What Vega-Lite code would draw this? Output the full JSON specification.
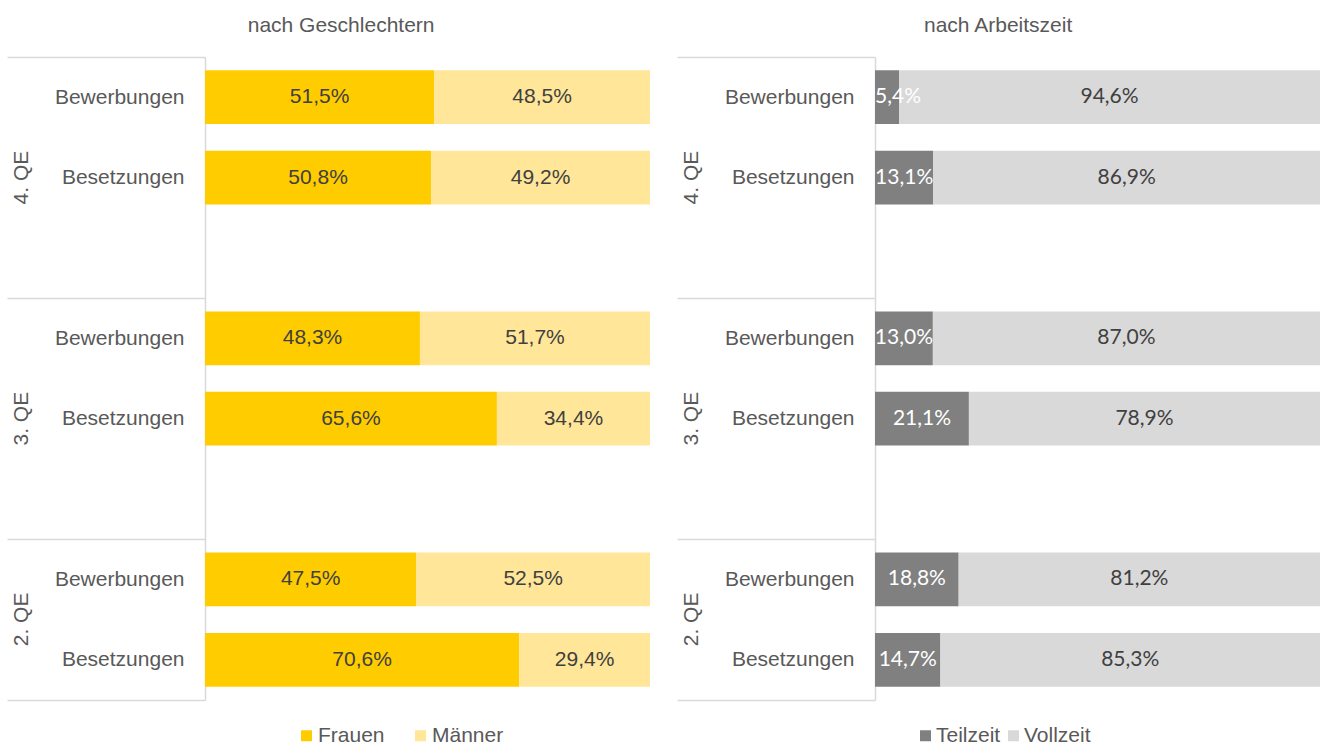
{
  "$schema": "https://vega.github.io/schema/vega-lite/v6.json",
  "padding": {"left": 6, "top": 15, "right": 8, "bottom": 0},
  "config": {
    "view": {"stroke": null},
    "locale": {"number": {"decimal": ",", "thousands": ".", "grouping": [3], "currency": ["", " €"]}},
    "font": "Liberation Sans"
  },
  "datasets": {
    "rows": [
      {"panel": "g", "key": "4. QE|Bewerbungen", "series": "Frauen", "pct": 0.515},
      {"panel": "g", "key": "4. QE|Bewerbungen", "series": "Männer", "pct": 0.485},
      {"panel": "g", "key": "4. QE|Besetzungen", "series": "Frauen", "pct": 0.508},
      {"panel": "g", "key": "4. QE|Besetzungen", "series": "Männer", "pct": 0.492},
      {"panel": "g", "key": "3. QE|Bewerbungen", "series": "Frauen", "pct": 0.483},
      {"panel": "g", "key": "3. QE|Bewerbungen", "series": "Männer", "pct": 0.517},
      {"panel": "g", "key": "3. QE|Besetzungen", "series": "Frauen", "pct": 0.656},
      {"panel": "g", "key": "3. QE|Besetzungen", "series": "Männer", "pct": 0.344},
      {"panel": "g", "key": "2. QE|Bewerbungen", "series": "Frauen", "pct": 0.475},
      {"panel": "g", "key": "2. QE|Bewerbungen", "series": "Männer", "pct": 0.525},
      {"panel": "g", "key": "2. QE|Besetzungen", "series": "Frauen", "pct": 0.706},
      {"panel": "g", "key": "2. QE|Besetzungen", "series": "Männer", "pct": 0.294},
      {"panel": "a", "key": "4. QE|Bewerbungen", "series": "Teilzeit", "pct": 0.054},
      {"panel": "a", "key": "4. QE|Bewerbungen", "series": "Vollzeit", "pct": 0.946},
      {"panel": "a", "key": "4. QE|Besetzungen", "series": "Teilzeit", "pct": 0.131},
      {"panel": "a", "key": "4. QE|Besetzungen", "series": "Vollzeit", "pct": 0.869},
      {"panel": "a", "key": "3. QE|Bewerbungen", "series": "Teilzeit", "pct": 0.130},
      {"panel": "a", "key": "3. QE|Bewerbungen", "series": "Vollzeit", "pct": 0.870},
      {"panel": "a", "key": "3. QE|Besetzungen", "series": "Teilzeit", "pct": 0.211},
      {"panel": "a", "key": "3. QE|Besetzungen", "series": "Vollzeit", "pct": 0.789},
      {"panel": "a", "key": "2. QE|Bewerbungen", "series": "Teilzeit", "pct": 0.188},
      {"panel": "a", "key": "2. QE|Bewerbungen", "series": "Vollzeit", "pct": 0.812},
      {"panel": "a", "key": "2. QE|Besetzungen", "series": "Teilzeit", "pct": 0.147},
      {"panel": "a", "key": "2. QE|Besetzungen", "series": "Vollzeit", "pct": 0.853}
    ]
  },
  "hconcat": [
    {
      "data": {"name": "rows"},
      "title": {"text": "nach Geschlechtern", "fontSize": 21, "font": "Liberation Sans", "fontWeight": "normal", "color": "#595959", "anchor": "middle", "frame": "bounds", "offset": 10, "dx": 13},
      "width": 445,
      "height": 643,
      "transform": [
        {"filter": "datum.panel === 'g'"},
        {"stack": "pct", "groupby": ["key"], "sort": [{"field": "series"}], "as": ["x0", "x1"]}
      ],
      "layer": [
        {
          "mark": {"type": "bar", "height": {"band": 0.67}},
          "encoding": {
            "y": {
              "field": "key", "type": "nominal",
              "scale": {"domain": ["4. QE|Bewerbungen", "4. QE|Besetzungen", "4. QE|", "3. QE|Bewerbungen", "3. QE|Besetzungen", "3. QE|", "2. QE|Bewerbungen", "2. QE|Besetzungen"], "paddingInner": 0, "paddingOuter": 0},
              "axis": {
                "orient": "left", "title": null,
                "domain": true, "domainColor": "#d9d9d9", "domainWidth": 1.5,
                "ticks": true, "tickBand": "extent", "tickSize": 198, "tickColor": "#d9d9d9", "tickWidth": 1.5,
                "tickOpacity": {"condition": {"test": "!isValid(datum.value) || datum.value == '4. QE|' || datum.value == '3. QE|' || datum.value == '2. QE|Besetzungen'", "value": 1}, "value": 0},
                "labelExpr": "isValid(datum.value) ? split(datum.value, '|')[1] : ''",
                "labelPadding": -177, "labelFontSize": 21, "labelFont": "Liberation Sans", "labelColor": "#595959",
                "labelAlign": "right", "labelBaseline": "middle", "labelOverlap": false
              }
            },
            "x": {"field": "x0", "type": "quantitative", "scale": {"domain": [0, 1], "nice": false}, "axis": null},
            "x2": {"field": "x1"},
            "color": {
              "field": "series", "type": "nominal",
              "scale": {"domain": ["Frauen", "Männer"], "range": ["#FFCC00", "#FFE699"]},
              "legend": {"orient": "none", "legendX": 91, "legendY": 668, "padding": 0, "direction": "horizontal", "title": null, "symbolType": "square", "symbolSize": 121, "symbolStrokeWidth": 0, "labelFontSize": 21, "labelFont": "Liberation Sans", "labelColor": "#595959", "columnPadding": 25, "labelOffset": 1}
            }
          }
        },
        {
          "transform": [
            {"fold": ["x0", "x1"], "as": ["edge", "pos"]},
            {"aggregate": [{"op": "mean", "field": "pos", "as": "mid"}], "groupby": ["key", "series", "pct"]}
          ],
          "mark": {"type": "text", "font": "Liberation Sans", "fontSize": 21, "baseline": "middle", "align": "center"},
          "encoding": {
            "y": {
              "field": "key", "type": "nominal",
              "scale": {"domain": ["4. QE|Bewerbungen", "4. QE|Besetzungen", "4. QE|", "3. QE|Bewerbungen", "3. QE|Besetzungen", "3. QE|", "2. QE|Bewerbungen", "2. QE|Besetzungen"], "paddingInner": 0, "paddingOuter": 0},
              "axis": {
                "orient": "left", "title": null, "domain": false, "ticks": false,
                "labelExpr": "datum.value == '4. QE|Besetzungen' ? '4. QE' : datum.value == '3. QE|Besetzungen' ? '3. QE' : datum.value == '2. QE|Bewerbungen' ? '2. QE' : ''",
                "labelAngle": -90, "labelAlign": "center", "labelBaseline": "middle", "labelPadding": 184,
                "labelOffset": {"condition": {"test": "datum.value == '2. QE|Bewerbungen'", "value": 40}, "value": 0},
                "labelFontSize": 21, "labelFont": "Liberation Sans", "labelColor": "#595959", "labelOverlap": false
              }
            },
            "x": {"field": "mid", "type": "quantitative"},
            "text": {"field": "pct", "type": "quantitative", "format": ".1%"},
            "color": {"value": "#404040"}
          }
        }
      ],
      "resolve": {"axis": {"y": "independent"}}
    },
    {
      "data": {"name": "rows"},
      "title": {"text": "nach Arbeitszeit", "fontSize": 21, "font": "Liberation Sans", "fontWeight": "normal", "color": "#595959", "anchor": "middle", "frame": "bounds", "offset": 10},
      "width": 445,
      "height": 643,
      "transform": [
        {"filter": "datum.panel === 'a'"},
        {"stack": "pct", "groupby": ["key"], "sort": [{"field": "series"}], "as": ["x0", "x1"]}
      ],
      "layer": [
        {
          "mark": {"type": "bar", "height": {"band": 0.67}},
          "encoding": {
            "y": {
              "field": "key", "type": "nominal",
              "scale": {"domain": ["4. QE|Bewerbungen", "4. QE|Besetzungen", "4. QE|", "3. QE|Bewerbungen", "3. QE|Besetzungen", "3. QE|", "2. QE|Bewerbungen", "2. QE|Besetzungen"], "paddingInner": 0, "paddingOuter": 0},
              "axis": {
                "orient": "left", "title": null,
                "domain": true, "domainColor": "#d9d9d9", "domainWidth": 1.5,
                "ticks": true, "tickBand": "extent", "tickSize": 198, "tickColor": "#d9d9d9", "tickWidth": 1.5,
                "tickOpacity": {"condition": {"test": "!isValid(datum.value) || datum.value == '4. QE|' || datum.value == '3. QE|' || datum.value == '2. QE|Besetzungen'", "value": 1}, "value": 0},
                "labelExpr": "isValid(datum.value) ? split(datum.value, '|')[1] : ''",
                "labelPadding": -177, "labelFontSize": 21, "labelFont": "Liberation Sans", "labelColor": "#595959",
                "labelAlign": "right", "labelBaseline": "middle", "labelOverlap": false
              }
            },
            "x": {"field": "x0", "type": "quantitative", "scale": {"domain": [0, 1], "nice": false}, "axis": null},
            "x2": {"field": "x1"},
            "color": {
              "field": "series", "type": "nominal",
              "scale": {"domain": ["Teilzeit", "Vollzeit"], "range": ["#808080", "#D9D9D9"]},
              "legend": {"orient": "none", "legendX": 40, "legendY": 668, "padding": 0, "direction": "horizontal", "title": null, "symbolType": "square", "symbolSize": 121, "symbolStrokeWidth": 0, "labelFontSize": 21, "labelFont": "Liberation Sans", "labelColor": "#595959", "columnPadding": 2, "labelOffset": 0}
            }
          }
        },
        {
          "transform": [
            {"fold": ["x0", "x1"], "as": ["edge", "pos"]},
            {"aggregate": [{"op": "mean", "field": "pos", "as": "mid"}], "groupby": ["key", "series", "pct"]}
          ],
          "mark": {"type": "text", "font": "Lato", "fontSize": 21, "baseline": "middle", "align": "center", "dx": {"expr": "datum.pct < 0.1 ? 11 : 0"}},
          "encoding": {
            "y": {
              "field": "key", "type": "nominal",
              "scale": {"domain": ["4. QE|Bewerbungen", "4. QE|Besetzungen", "4. QE|", "3. QE|Bewerbungen", "3. QE|Besetzungen", "3. QE|", "2. QE|Bewerbungen", "2. QE|Besetzungen"], "paddingInner": 0, "paddingOuter": 0},
              "axis": {
                "orient": "left", "title": null, "domain": false, "ticks": false,
                "labelExpr": "datum.value == '4. QE|Besetzungen' ? '4. QE' : datum.value == '3. QE|Besetzungen' ? '3. QE' : datum.value == '2. QE|Bewerbungen' ? '2. QE' : ''",
                "labelAngle": -90, "labelAlign": "center", "labelBaseline": "middle", "labelPadding": 184,
                "labelOffset": {"condition": {"test": "datum.value == '2. QE|Bewerbungen'", "value": 40}, "value": 0},
                "labelFontSize": 21, "labelFont": "Liberation Sans", "labelColor": "#595959", "labelOverlap": false
              }
            },
            "x": {"field": "mid", "type": "quantitative"},
            "text": {"field": "pct", "type": "quantitative", "format": ".1%"},
            "color": {"condition": {"test": "datum.series === 'Teilzeit'", "value": "#ffffff"}, "value": "#404040"}
          }
        }
      ],
      "resolve": {"axis": {"y": "independent"}}
    }
  ],
  "spacing": 26,
  "resolve": {"scale": {"color": "independent", "x": "independent", "y": "independent"}}
}
